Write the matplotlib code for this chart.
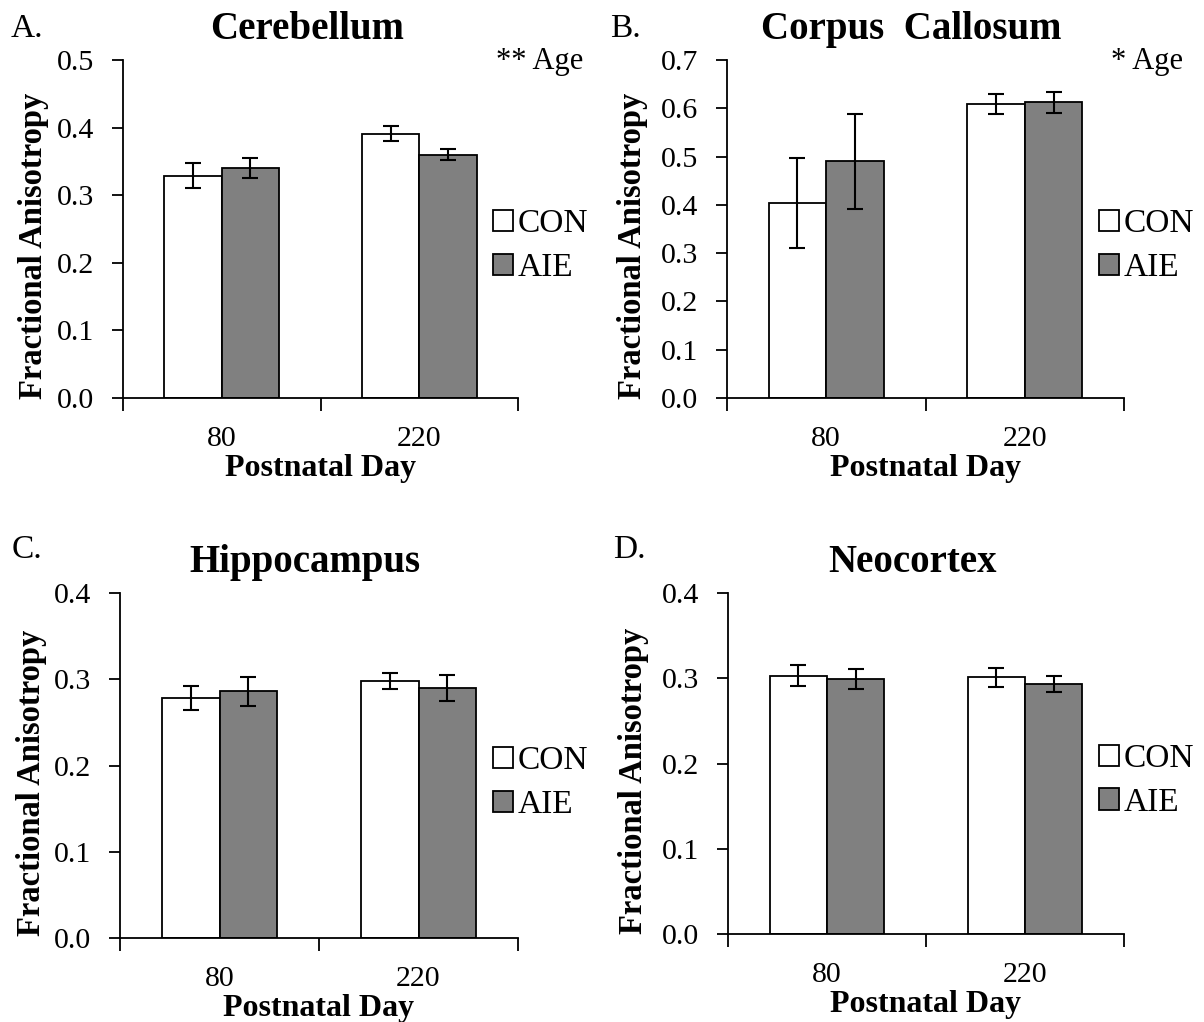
import numpy as np
import matplotlib
matplotlib.use('Agg')
import matplotlib.pyplot as plt
from matplotlib.patches import Patch

plt.rcParams['font.family'] = ['Liberation Serif', 'DejaVu Serif']

# values (mean +/- error bar), one row per region
regions = ['Cerebellum', 'Corpus  Callosum', 'Hippocampus', 'Neocortex']
panel_letters = ['A.', 'B.', 'C.', 'D.']
days = ['80', '220']
con_mean = [[0.329, 0.391], [0.404, 0.609], [0.278, 0.298], [0.303, 0.301]]
con_err = [[0.019, 0.011], [0.093, 0.021], [0.014, 0.009], [0.0125, 0.011]]
aie_mean = [[0.340, 0.360], [0.490, 0.612], [0.286, 0.290], [0.299, 0.293]]
aie_err = [[0.015, 0.008], [0.099, 0.021], [0.017, 0.0155], [0.0115, 0.0095]]
y_max = [0.5, 0.7, 0.4, 0.4]
stats_note = ['** Age', '* Age', '', '']

W, H = 1204, 1022
# axes boxes in pixels: left, top, right, bottom
boxes = [(123, 60, 518, 398), (727, 60, 1124, 398),
         (120, 593, 518, 938), (728, 593, 1124, 934)]
letter_pos = [(11, 37), (610, 37), (12, 558), (613, 558)]
note_right = [583, 1183]
ylabel_right = [49, 648, 47, 649]

fig = plt.figure(figsize=(W / 100, H / 100), dpi=100)

bar_w = 0.29
lw = 1.3
for i in range(4):
    l, t, r, b = boxes[i]
    aw, ah = r - l, b - t
    ax = fig.add_axes([l / W, 1 - b / H, aw / W, ah / H])
    x = np.arange(len(days)) + 0.5
    ekw = dict(elinewidth=1.5, capthick=1.5, ecolor='black')
    ax.bar(x - bar_w / 2, con_mean[i], bar_w, yerr=con_err[i], color='white',
           edgecolor='black', linewidth=lw, capsize=6, error_kw=ekw, zorder=2)
    ax.bar(x + bar_w / 2, aie_mean[i], bar_w, yerr=aie_err[i], color='#808080',
           edgecolor='black', linewidth=lw, capsize=6, error_kw=ekw, zorder=2)

    ax.set_xlim(0, 2)
    ax.set_ylim(0, y_max[i])
    ax.spines['top'].set_visible(False)
    ax.spines['right'].set_visible(False)
    ax.spines['left'].set_linewidth(lw)
    ax.spines['bottom'].set_linewidth(lw)

    yt = np.round(np.arange(0, y_max[i] + 0.001, 0.1), 1)
    ax.set_yticks(yt)
    ax.set_yticklabels([f'{v:.1f}' for v in yt])
    ax.tick_params(axis='y', direction='out', length=8, width=lw,
                   labelsize=21.5, pad=13)

    ax.set_xticks([0, 1, 2])
    ax.set_xticklabels([])
    ax.set_xticks(x, minor=True)
    ax.set_xticklabels(days, minor=True)
    ax.tick_params(axis='x', which='major', direction='out', length=9, width=lw)
    ax.tick_params(axis='x', which='minor', length=0, labelsize=21.5, pad=20)

    ax.set_ylabel('Fractional Anisotropy', fontsize=23.5, fontweight='bold')
    ax.yaxis.set_label_coords(-(l - ylabel_right[i]) / aw, 0.45)
    ax.set_xlabel('Postnatal Day', fontsize=23, fontweight='bold')
    ax.xaxis.label.set_va('center')
    ax.xaxis.set_label_coords(0.5, -70 / ah)

    ax.text(0.465, 1 + 21 / ah, regions[i], transform=ax.transAxes,
            ha='center', va='baseline', fontsize=28, fontweight='bold')
    if stats_note[i]:
        ax.text((note_right[i] - l) / aw, 1 - 1 / ah, stats_note[i],
                transform=ax.transAxes, ha='right', va='center', fontsize=22)

    handles = [Patch(facecolor='white', edgecolor='black', linewidth=lw),
               Patch(facecolor='#808080', edgecolor='black', linewidth=lw)]
    ax.legend(handles=handles, labels=['CON', 'AIE'], loc='center left',
              bbox_to_anchor=(0.937, 0.45), frameon=False, fontsize=24,
              handlelength=0.6, handleheight=0.6, handletextpad=0.15,
              labelspacing=0.4, borderpad=0, borderaxespad=0)

    lx, ly = letter_pos[i]
    fig.text(lx / W, 1 - ly / H, panel_letters[i], ha='left', va='baseline',
             fontsize=24)

fig.savefig('out.png', dpi=100)
